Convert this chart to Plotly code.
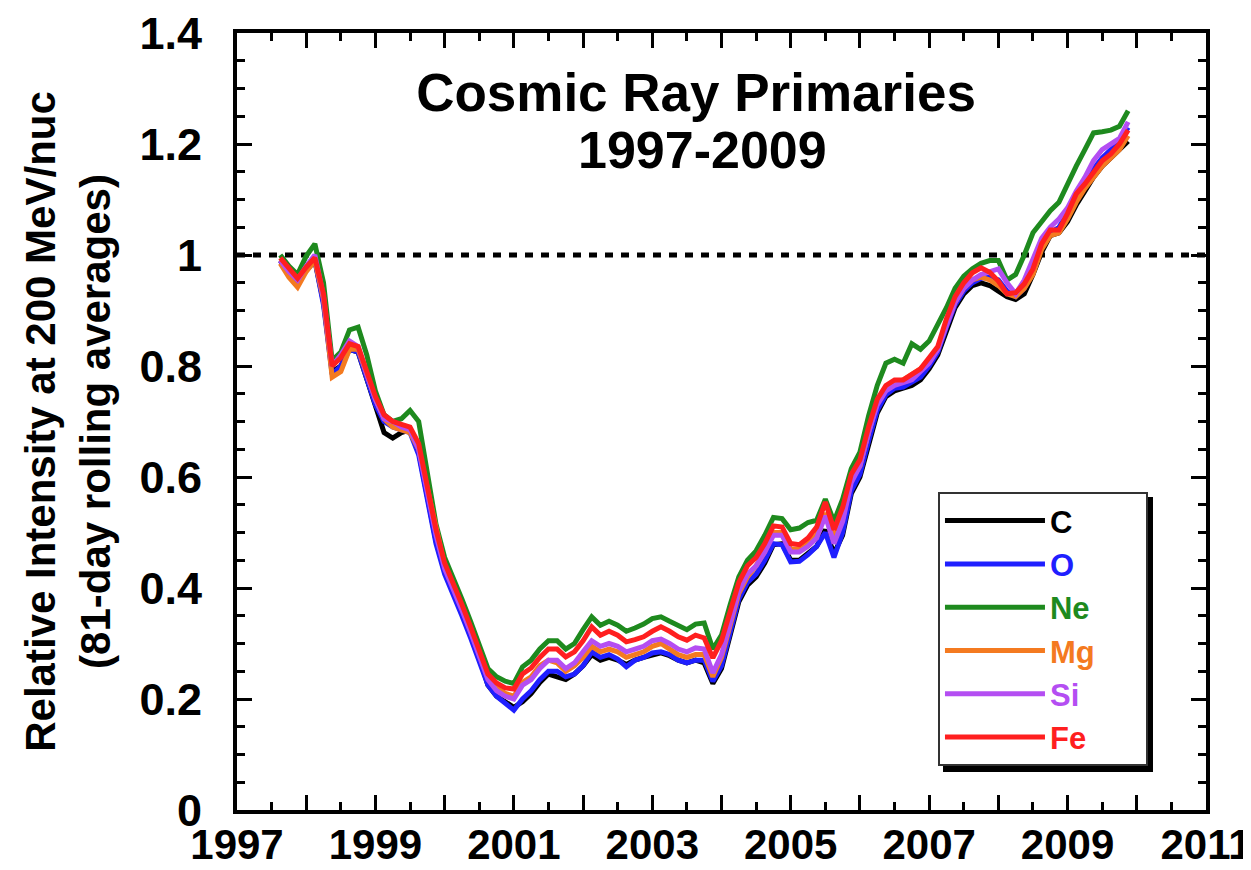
import numpy as np
import plotly.graph_objects as go

# sampling times (fractional years), 1.5-month grid
years = np.round(np.arange(1997.625, 2009.876, 0.125), 3)

C = [0.99,0.97,0.95,0.972,0.99,0.915,0.79,0.80,0.83,0.825,
     0.775,0.725,0.68,0.67,0.68,0.685,0.645,0.565,0.485,0.43,
     0.395,0.355,0.315,0.275,0.225,0.205,0.195,0.185,0.195,0.21,
     0.23,0.245,0.24,0.235,0.245,0.26,0.28,0.27,0.275,0.27,
     0.262,0.27,0.275,0.28,0.283,0.278,0.27,0.265,0.27,0.265,
     0.228,0.255,0.315,0.375,0.405,0.42,0.445,0.478,0.48,0.45,
     0.45,0.462,0.475,0.505,0.462,0.495,0.57,0.60,0.66,0.715,
     0.745,0.755,0.76,0.765,0.775,0.795,0.82,0.865,0.905,0.93,
     0.945,0.95,0.945,0.935,0.925,0.92,0.93,0.965,1.005,1.035,
     1.04,1.06,1.09,1.115,1.14,1.16,1.175,1.19,1.205]

O = [0.99,0.97,0.952,0.975,0.99,0.91,0.785,0.80,0.83,0.825,
     0.775,0.73,0.70,0.69,0.685,0.68,0.64,0.56,0.48,0.425,
     0.39,0.35,0.31,0.27,0.225,0.205,0.192,0.18,0.20,0.215,
     0.235,0.25,0.25,0.24,0.245,0.26,0.285,0.275,0.28,0.272,
     0.258,0.27,0.275,0.283,0.285,0.28,0.27,0.265,0.27,0.27,
     0.232,0.26,0.32,0.38,0.41,0.425,0.45,0.48,0.478,0.447,
     0.448,0.46,0.475,0.50,0.455,0.50,0.575,0.605,0.665,0.72,
     0.748,0.76,0.762,0.77,0.78,0.80,0.825,0.87,0.91,0.935,
     0.95,0.958,0.96,0.955,0.935,0.925,0.94,0.97,1.015,1.04,
     1.05,1.075,1.105,1.13,1.155,1.175,1.19,1.205,1.23]

Ne = [1.00,0.98,0.965,0.998,1.02,0.95,0.81,0.825,0.865,0.87,
      0.82,0.755,0.712,0.70,0.705,0.72,0.70,0.605,0.515,0.455,
      0.42,0.38,0.34,0.30,0.255,0.24,0.232,0.228,0.258,0.27,
      0.29,0.305,0.305,0.29,0.30,0.325,0.348,0.333,0.34,0.333,
      0.322,0.328,0.335,0.345,0.348,0.34,0.332,0.325,0.335,0.337,
      0.29,0.315,0.37,0.42,0.45,0.467,0.495,0.527,0.525,0.505,
      0.508,0.518,0.522,0.56,0.52,0.56,0.615,0.645,0.71,0.765,
      0.805,0.812,0.805,0.84,0.83,0.845,0.875,0.905,0.94,0.962,
      0.975,0.985,0.99,0.99,0.955,0.965,1.0,1.04,1.06,1.08,
      1.095,1.13,1.16,1.19,1.22,1.222,1.225,1.232,1.26]

Mg = [0.985,0.96,0.942,0.97,0.99,0.92,0.78,0.79,0.83,0.83,
      0.785,0.74,0.705,0.69,0.685,0.68,0.65,0.58,0.50,0.44,
      0.405,0.365,0.325,0.285,0.24,0.22,0.21,0.205,0.23,0.24,
      0.26,0.27,0.265,0.25,0.26,0.275,0.295,0.285,0.29,0.285,
      0.275,0.28,0.285,0.295,0.30,0.29,0.28,0.275,0.28,0.28,
      0.24,0.275,0.335,0.39,0.42,0.44,0.465,0.50,0.50,0.47,
      0.47,0.48,0.495,0.535,0.49,0.525,0.595,0.62,0.68,0.735,
      0.76,0.77,0.775,0.785,0.795,0.81,0.83,0.875,0.915,0.94,
      0.955,0.96,0.955,0.945,0.93,0.925,0.94,0.965,1.01,1.035,
      1.04,1.065,1.095,1.12,1.14,1.16,1.175,1.19,1.215]

Si = [0.99,0.97,0.955,0.98,1.00,0.925,0.80,0.82,0.845,0.835,
      0.785,0.74,0.705,0.70,0.69,0.685,0.65,0.575,0.495,0.435,
      0.40,0.36,0.32,0.28,0.235,0.215,0.205,0.20,0.225,0.235,
      0.255,0.27,0.27,0.255,0.265,0.285,0.305,0.295,0.30,0.295,
      0.285,0.29,0.295,0.305,0.308,0.30,0.29,0.285,0.292,0.29,
      0.247,0.28,0.34,0.395,0.425,0.44,0.465,0.495,0.495,0.465,
      0.465,0.475,0.49,0.53,0.48,0.52,0.59,0.62,0.68,0.73,
      0.755,0.765,0.77,0.775,0.79,0.805,0.83,0.875,0.915,0.94,
      0.955,0.965,0.97,0.975,0.95,0.93,0.955,0.99,1.03,1.05,
      1.065,1.085,1.115,1.14,1.17,1.19,1.20,1.21,1.24]

Fe = [0.995,0.975,0.958,0.978,0.995,0.93,0.80,0.815,0.84,0.835,
      0.79,0.745,0.712,0.70,0.695,0.69,0.66,0.585,0.505,0.445,
      0.41,0.37,0.33,0.29,0.245,0.229,0.22,0.218,0.245,0.256,
      0.275,0.29,0.29,0.276,0.285,0.305,0.33,0.315,0.322,0.315,
      0.303,0.307,0.312,0.322,0.33,0.322,0.312,0.306,0.315,0.31,
      0.274,0.305,0.36,0.41,0.44,0.455,0.48,0.512,0.51,0.48,
      0.478,0.49,0.51,0.555,0.505,0.545,0.605,0.631,0.69,0.74,
      0.765,0.775,0.775,0.785,0.795,0.815,0.835,0.885,0.925,0.95,
      0.968,0.977,0.969,0.953,0.93,0.932,0.948,0.975,1.02,1.045,
      1.045,1.075,1.11,1.128,1.15,1.17,1.182,1.20,1.225]

species = ["C", "O", "Ne", "Mg", "Si", "Fe"]
series = [C, O, Ne, Mg, Si, Fe]
colors = ["#000000", "#1f1fff", "#1e8a1e", "#f47a20", "#b44ef2", "#ff1f1f"]

reference_level = 1.0
x_ticks = list(range(1997, 2012))
x_ticktext = [str(v) if v % 2 == 1 else "" for v in x_ticks]
y_ticks = [0, 0.2, 0.4, 0.6, 0.8, 1.0, 1.2, 1.4]
y_ticktext = ["0", "0.2", "0.4", "0.6", "0.8", "1", "1.2", "1.4"]

FONT = "Liberation Sans"
PAD = "\u00a0" * 5 + "\u200a"  # widens the legend box to the reference's width

fig = go.Figure()
for name, vals, col in zip(species, series, colors):
    assert len(vals) == len(years), name
    fig.add_trace(go.Scatter(
        x=years, y=vals, mode="lines",
        name=f'<span style="color:{col}">{name}</span>{PAD}',
        line=dict(color=col, width=5),
    ))

fig.add_shape(type="line", xref="paper", x0=0, x1=1, yref="y",
              y0=reference_level, y1=reference_level,
              line=dict(color="black", width=5, dash="8px,8px"), layer="below")

# legend drop shadow
fig.add_shape(type="rect", xref="paper", yref="paper",
              x0=0.7286, x1=0.9453, y0=0.0489, y1=0.4028,
              fillcolor="black", line=dict(width=0), layer="above")

fig.add_annotation(text="1997-2009", xref="paper", yref="paper", x=0.48, y=0.849,
                   xanchor="center", yanchor="middle", showarrow=False,
                   font=dict(family=FONT, size=52, color="black", weight="bold"))

axis_common = dict(
    showline=True, linecolor="black", linewidth=4, mirror="allticks",
    ticks="inside", tickcolor="black", tickwidth=3, ticklen=15,
    showgrid=False, zeroline=False, automargin=False, ticklabeloverflow="allow",
)

fig.update_layout(
    width=1251, height=870,
    # the page body adds an 8px offset; margins compensate so the frame lands where the reference has it
    margin=dict(l=229, r=53, t=25, b=68),
    paper_bgcolor="white", plot_bgcolor="white",
    title=dict(text="Cosmic Ray Primaries", x=0.4737, xref="paper",
               xanchor="center", y=0.924, yref="paper", yanchor="middle",
               font=dict(family=FONT, size=53, color="black", weight="bold"),
               automargin=False),
    xaxis=dict(range=[1997, 2011], tickmode="array", tickvals=x_ticks, ticktext=x_ticktext,
               minor=dict(tickmode="linear", tick0=1997, dtick=0.5, ticks="inside",
                          ticklen=8, tickwidth=3, tickcolor="black"),
               ticklabelstandoff=-5,
               tickfont=dict(family=FONT, size=42, color="black", weight="bold"),
               **axis_common),
    yaxis=dict(range=[0, 1.4], tickmode="array", tickvals=y_ticks, ticktext=y_ticktext,
               minor=dict(tickmode="linear", tick0=0, dtick=0.05, ticks="inside",
                          ticklen=8, tickwidth=3, tickcolor="black"),
               ticklabelstandoff=22,
               tickfont=dict(family=FONT, size=45, color="black", weight="bold"),
               title=dict(text="Relative Intensity at 200 MeV/nuc<br>(81-day rolling averages)",
                          font=dict(family=FONT, size=42, color="black", weight="bold"),
                          standoff=17),
               **axis_common),
    legend=dict(x=0.7234, y=0.4093, xanchor="left", yanchor="top",
                bgcolor="white", bordercolor="#333333", borderwidth=2,
                font=dict(family=FONT, size=31, weight="bold"),
                itemwidth=100, traceorder="normal", tracegroupgap=0),
    showlegend=True,
)

fig.write_html("out.html")
